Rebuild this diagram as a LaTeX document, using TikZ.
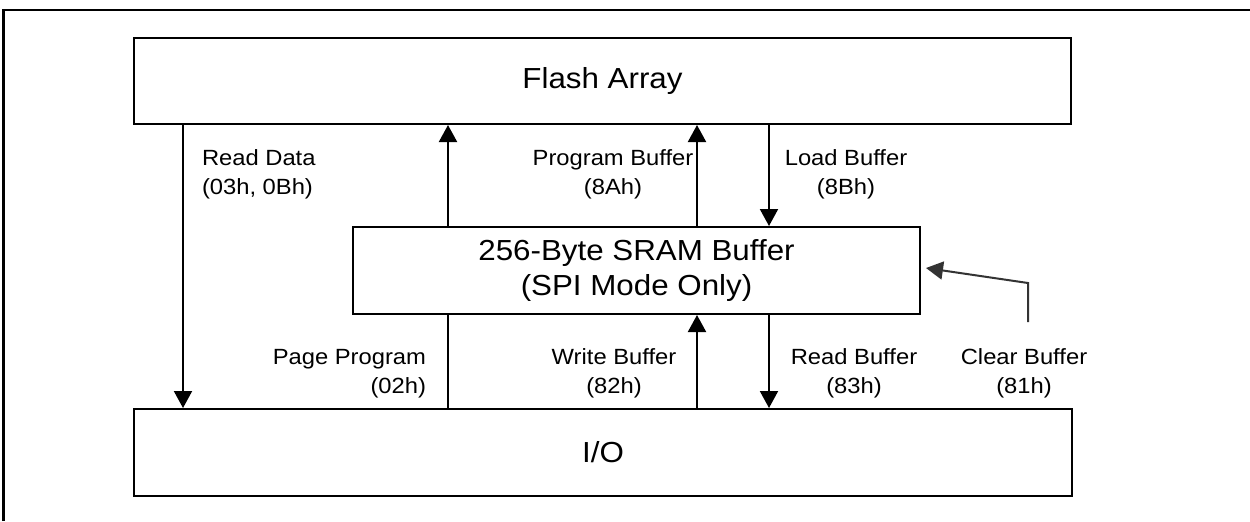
\documentclass[tikz,border=0pt]{standalone}
\usepackage{fontspec}
\setmainfont{Liberation Sans}[FakeStretch=1.08]
\usepackage{tikz}
\usetikzlibrary{arrows.meta}

\tikzset{
	blk/.style={draw, line width=1pt, inner sep=0pt, font=\fontsize{14.5}{17.5}\selectfont, align=center},
	lbl/.style={inner sep=0pt, font=\fontsize{11}{14.5}\selectfont},
	>={Triangle[length=8.5pt,width=9pt]}
}

\begin{document}
\begin{tikzpicture}[x=0.5pt, y=-0.5pt, line width=1pt]
		\useasboundingbox (0,0) rectangle (1250,521);
		\draw[line width=1.4pt] (3.5,521) -- (3.5,10) -- (1250,10);
		\node[blk, minimum width=468.5pt, minimum height=43pt] (flash) at (602.5,81) {Flash Array};
		\node[blk, minimum width=283.5pt, minimum height=43.5pt] (sram) at (636.5,270.5) {256-Byte SRAM Buffer\\(SPI Mode Only)};
		\node[blk, minimum width=469pt, minimum height=43.5pt] (io) at (603,452.5) {I/O};
		\coordinate (c1) at (183,0);
		\coordinate (c2) at (448,0);
		\coordinate (c3) at (697,0);
		\coordinate (c4) at (769,0);
		\coordinate (clr) at (1028,322);
		\path[->]
		(c1 |- flash.south) edge (c1 |- io.north)
		(c2 |- sram.north) edge (c2 |- flash.south)
		(c3 |- sram.north) edge (c3 |- flash.south)
		(c4 |- flash.south) edge (c4 |- sram.north)
		(c3 |- io.north) edge (c3 |- sram.south)
		(c4 |- sram.south) edge (c4 |- io.north)
		;
		\path (c2 |- io.north) edge (c2 |- sram.south);
		\draw[->, black!80] (clr) -- ++(0,-39) -- ([shift={(5,-2.5)}]sram.east);
		% base of a two-line label is its last line
		\node[lbl, anchor=base west, align=left] (rdlbl) at (201,194) {Read Data\\(03h, 0Bh)};
		\node[lbl, anchor=base, align=center] (pblbl) at (613,194) {Program Buffer\\(8Ah)};
		\node[lbl, anchor=base, align=center] (lblbl) at (846,194) {Load Buffer\\(8Bh)};
		\node[lbl, anchor=base east, align=right] (pplbl) at (427,393) {Page Program\\(02h)};
		\node[lbl, anchor=base, align=center] (wblbl) at (614,393) {Write Buffer\\(82h)};
		\node[lbl, anchor=base, align=center] (rblbl) at (854,393) {Read Buffer\\(83h)};
		\node[lbl, anchor=base, align=center] (cblbl) at (1024,393) {Clear Buffer\\(81h)};
	\end{tikzpicture}
\end{document}
